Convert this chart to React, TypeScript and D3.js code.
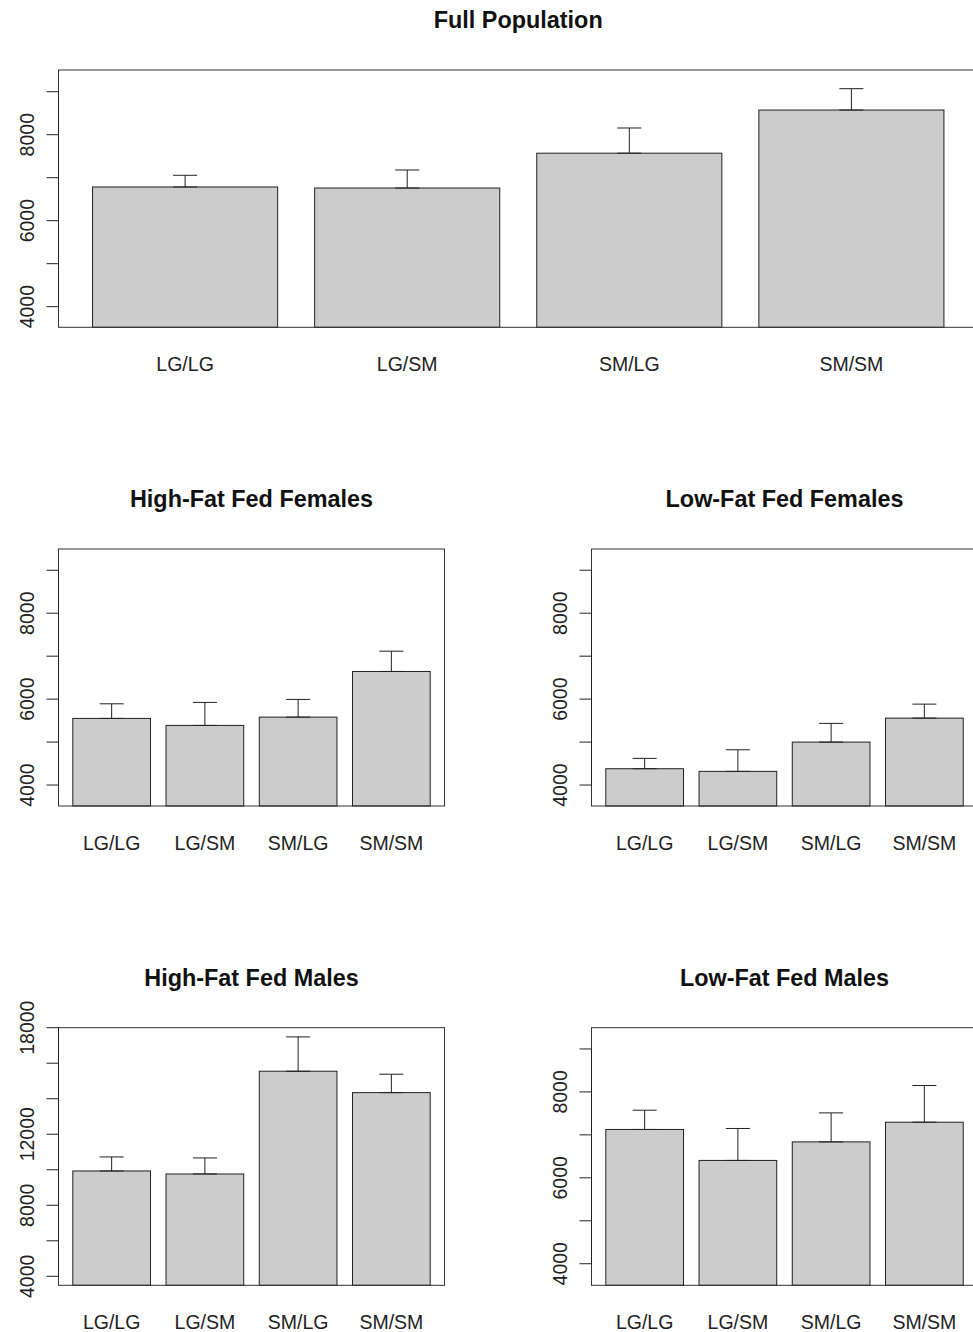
import React from 'react'
import * as d3 from 'd3'

const categories = ['LG/LG', 'LG/SM', 'SM/LG', 'SM/SM']

// bar means and top of the error bar (mean + se)
const fullMeans = [6784, 6760, 7570, 8574]
const fullUpper = [7056, 7179, 8156, 9070]
const hfFemaleMeans = [5551, 5388, 5581, 6644]
const hfFemaleUpper = [5891, 5923, 5993, 7116]
const lfFemaleMeans = [4380, 4318, 5000, 5558]
const lfFemaleUpper = [4620, 4821, 5435, 5884]
const hfMaleMeans = [9932, 9763, 15549, 14344]
const hfMaleUpper = [10721, 10665, 17482, 15380]
const lfMaleMeans = [7126, 6405, 6837, 7295]
const lfMaleUpper = [7574, 7149, 7512, 8149]

const smallTicks = [4000, 5000, 6000, 7000, 8000, 9000]
const smallTickLabels = [4000, 6000, 8000]
const bigTicks = [4000, 6000, 8000, 10000, 12000, 14000, 16000, 18000]
const bigTickLabels = [4000, 8000, 12000, 18000]

const FONT = '"Liberation Sans", Arial, Helvetica, sans-serif'
const INK = '#222'

interface PanelProps {
  title: string
  means: number[]
  upper: number[]
  domain: [number, number]
  ticks: number[]
  tickLabels: number[]
  x: number
  y: number
  w: number
  h: number
}

function Panel({ title, means, upper, domain, ticks, tickLabels, x, y, w, h }: PanelProps) {
  const xScale = d3
    .scaleBand()
    .domain(categories)
    .range([x, x + w])
    .paddingInner(1 / 6)
    .paddingOuter(0.184 / 1.2)

  const yScale = d3.scaleLinear().domain(domain).range([y + h, y])
  const bottom = y + h
  const cap = 12

  return (
    <g>
      <text
        x={x + w / 2}
        y={y - 42}
        textAnchor="middle"
        fontFamily={FONT}
        fontSize={23.4}
        fontWeight="bold"
        fill="#111"
      >
        {title}
      </text>
      {means.map((m, i) => (
        <rect
          key={categories[i]}
          x={xScale(categories[i])}
          y={yScale(m)}
          width={xScale.bandwidth()}
          height={bottom - yScale(m)}
          fill="#cccccc"
          stroke={INK}
          strokeWidth={1}
        />
      ))}
      {means.map((m, i) => {
        const cx = (xScale(categories[i]) || 0) + xScale.bandwidth() / 2
        return (
          <g key={'err' + i} stroke={INK} strokeWidth={1}>
            <line x1={cx} x2={cx} y1={yScale(m)} y2={yScale(upper[i])} />
            <line x1={cx - cap} x2={cx + cap} y1={yScale(upper[i])} y2={yScale(upper[i])} />
            <line x1={cx - cap} x2={cx + cap} y1={yScale(m)} y2={yScale(m)} />
          </g>
        )
      })}
      <rect x={x} y={y} width={w} height={h} fill="none" stroke="#333" strokeWidth={1} />
      <line
        x1={x}
        x2={x}
        y1={yScale(ticks[0])}
        y2={yScale(ticks[ticks.length - 1])}
        stroke={INK}
      />
      {ticks.map((t) => (
        <line key={t} x1={x - 12} x2={x} y1={yScale(t)} y2={yScale(t)} stroke={INK} />
      ))}
      {tickLabels.map((t) => (
        <text
          key={t}
          transform={`translate(${x - 25},${yScale(t)}) rotate(-90)`}
          textAnchor="middle"
          fontFamily={FONT}
          fontSize={19.5}
          fill="#222"
        >
          {t}
        </text>
      ))}
      {categories.map((c) => (
        <text
          key={c}
          x={(xScale(c) || 0) + xScale.bandwidth() / 2}
          y={bottom + 44}
          textAnchor="middle"
          fontFamily={FONT}
          fontSize={19.5}
          fill="#222"
        >
          {c}
        </text>
      ))}
    </g>
  )
}

export default function App() {
  return (
    <svg
      width={973}
      height={1332}
      style={{ position: 'absolute', left: 0, top: 0, background: '#fff' }}
    >
      <Panel
        title="Full Population"
        means={fullMeans}
        upper={fullUpper}
        domain={[3520, 9505]}
        ticks={smallTicks}
        tickLabels={smallTickLabels}
        x={58.5}
        y={70}
        w={919.5}
        h={257.3}
      />
      <Panel
        title="High-Fat Fed Females"
        means={hfFemaleMeans}
        upper={hfFemaleUpper}
        domain={[3512, 9495]}
        ticks={smallTicks}
        tickLabels={smallTickLabels}
        x={58.5}
        y={549}
        w={386}
        h={257}
      />
      <Panel
        title="Low-Fat Fed Females"
        means={lfFemaleMeans}
        upper={lfFemaleUpper}
        domain={[3512, 9495]}
        ticks={smallTicks}
        tickLabels={smallTickLabels}
        x={591.5}
        y={549}
        w={386}
        h={257}
      />
      <Panel
        title="High-Fat Fed Males"
        means={hfMaleMeans}
        upper={hfMaleUpper}
        domain={[3493, 18000]}
        ticks={bigTicks}
        tickLabels={bigTickLabels}
        x={58.5}
        y={1027.7}
        w={386}
        h={257.6}
      />
      <Panel
        title="Low-Fat Fed Males"
        means={lfMaleMeans}
        upper={lfMaleUpper}
        domain={[3498, 9495]}
        ticks={smallTicks}
        tickLabels={smallTickLabels}
        x={591.5}
        y={1027.7}
        w={386}
        h={257.6}
      />
    </svg>
  )
}
